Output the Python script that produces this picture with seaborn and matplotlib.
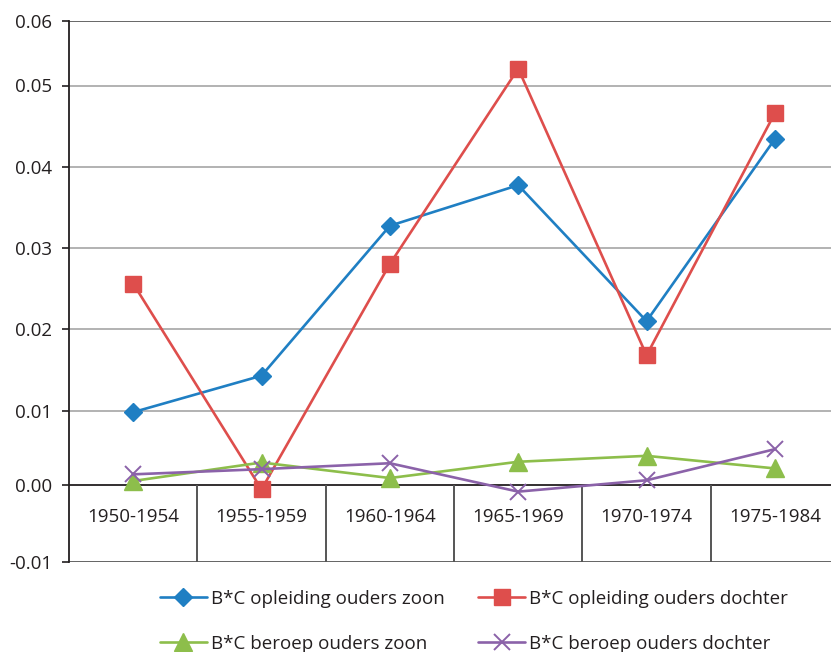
import numpy as np
import pandas as pd
import matplotlib
matplotlib.use("Agg")
import matplotlib.pyplot as plt
from matplotlib.scale import FuncScale
import seaborn as sns

# ---- data -------------------------------------------------------------
cohorts = ["1950-1954", "1955-1959", "1960-1964", "1965-1969", "1970-1974", "1975-1984"]

opleiding_zoon = [0.0098, 0.0143, 0.0327, 0.0377, 0.0210, 0.0434]
opleiding_dochter = [0.0256, -0.0006, 0.0280, 0.0526, 0.0168, 0.0466]
beroep_zoon = [0.0005, 0.0030, 0.0009, 0.0031, 0.0039, 0.0022]
beroep_dochter = [0.0014, 0.0021, 0.0029, -0.0009, 0.0006, 0.0048]

series_names = [
    "B*C opleiding ouders zoon",
    "B*C opleiding ouders dochter",
    "B*C beroep ouders zoon",
    "B*C beroep ouders dochter",
]
y_ticks = [-0.01, 0.0, 0.01, 0.02, 0.03, 0.04, 0.05, 0.06]
y_tick_labels = ["-0.01", "0.00", "0.01", "0.02", "0.03", "0.04", "0.05", "0.06"]

# ---- styling ----------------------------------------------------------
sns.set_theme(style="white")
plt.rcParams["font.family"] = ["Open Sans", "DejaVu Sans"]
TEXT = "#231f20"
FS = 13.5

W, H = 831, 652
fig = plt.figure(figsize=(W / 100, H / 100), dpi=100)

# vertical placement of each gridline on the page (pixels from top)
grid_px = np.array([561.7, 484.7, 410.7, 329.3, 247.7, 166.5, 85.5, 20.5])
left_px, cat_w = 69.0, 128.35
ax = fig.add_axes([left_px / W, (H - grid_px[0]) / H,
                   6 * cat_w / W, (grid_px[0] - grid_px[-1]) / H])

# piecewise-linear value axis following the gridline spacing
tick_arr = np.array(y_ticks)
pos_arr = -grid_px


def fwd(v):
    return np.interp(v, tick_arr, pos_arr)


def inv(p):
    return np.interp(p, pos_arr, tick_arr)


ax.set_yscale(FuncScale(ax, (fwd, inv)))

x = np.arange(len(cohorts))
styles = [
    (opleiding_zoon, "#1f7fc3", "D", 9.5, 1.0),
    (opleiding_dochter, "#de4e4c", "s", 12.0, 1.0),
    (beroep_zoon, "#8dbe4b", "^", 12.5, 1.0),
    (beroep_dochter, "#8b62a9", "x", 11.5, 1.4),
]
for (vals, col, mk, ms, mew), name in zip(styles, series_names):
    sns.lineplot(x=x, y=vals, ax=ax, color=col, linewidth=1.9,
                 marker=mk, markersize=ms, markeredgecolor=col,
                 markerfacecolor=col, markeredgewidth=mew,
                 label=name, clip_on=False, zorder=5)

ax.set_xlim(-0.5, len(cohorts) - 0.5)
ax.set_ylim(-0.01, 0.06)

# gridlines and frame
for t in y_ticks[2:-1]:
    ax.axhline(t, color="#a6a6a6", linewidth=1.2, zorder=1)
ax.axhline(0.06, color="#5a5a5a", linewidth=1.3, zorder=1)
ax.axhline(0.0, color=TEXT, linewidth=1.3, zorder=2)
ax.axhline(-0.01, color="#555555", linewidth=2.0, zorder=2)
ax.vlines(np.arange(len(cohorts)) + 0.5, -0.01, 0.0,
          color="#555555", linewidth=1.4, zorder=2)

for s in ["top", "right", "bottom"]:
    ax.spines[s].set_visible(False)
ax.spines["left"].set_color(TEXT)
ax.spines["left"].set_linewidth(1.3)

# category labels inside the boxes below the zero line
for i, c in enumerate(cohorts):
    ax.text(i, -0.0042, c, ha="center", va="center", fontsize=FS, color=TEXT)

ax.set_xticks([])
ax.set_yticks(y_ticks)
ax.set_yticklabels(y_tick_labels)
ax.tick_params(axis="y", direction="out", length=5.2, width=1.2,
               color=TEXT, pad=7, labelsize=FS, labelcolor=TEXT, left=True)
ax.set_xlabel("")
ax.set_ylabel("")

# legend below the chart, two columns
handles, labels = ax.get_legend_handles_labels()
ax.get_legend().remove()
order = [0, 2, 1, 3]
fig.legend([handles[i] for i in order], [labels[i] for i in order],
           loc="upper left", bbox_to_anchor=(160 / W, 1 - 590 / H),
           ncol=2, frameon=False, fontsize=FS, handlelength=2.5,
           handletextpad=0.2, columnspacing=1.8, labelspacing=1.42,
           borderpad=0, borderaxespad=0, labelcolor=TEXT)

fig.savefig("out.png", dpi=100)
